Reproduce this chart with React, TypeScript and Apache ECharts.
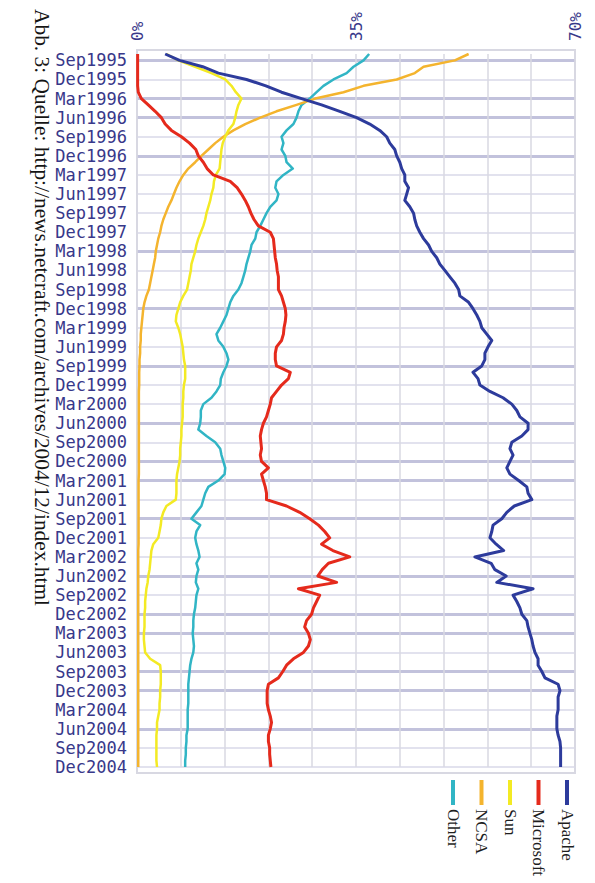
import React, { useEffect, useRef } from "react";
import * as echarts from "echarts";

// ---- categories (monthly, Aug 1995 .. Dec 2004) ----
const MONTH_NAMES = ["Jan", "Feb", "Mar", "Apr", "May", "Jun", "Jul", "Aug", "Sep", "Oct", "Nov", "Dec"];
const FIRST_YEAR = 1995;
const FIRST_MONTH = 7; // Aug
const MONTH_COUNT = 113;
const months: string[] = [];
for (let i = 0; i < MONTH_COUNT; i++) {
  const t = FIRST_MONTH + i;
  months.push(MONTH_NAMES[t % 12] + (FIRST_YEAR + Math.floor(t / 12)));
}

// value-axis tick labels that are printed
const X_LABELS = [0, 35, 70];

// ---- series values (percent share) ----
const apache = [
  4.5, 6.8, 10.5, 13.0, 17.5, 20.6, 23.1, 26.3, 29.5, 32.4, 35.1, 37.2, 38.8, 39.9, 40.4, 41.2, 41.5, 42.0, 42.3, 42.8,
  42.8, 43.4, 43.1, 42.8, 43.6, 44.2, 44.4, 44.7, 45.2, 45.8, 46.6, 47.1, 47.9, 48.4, 49.2, 50.0, 50.8, 51.4, 51.6, 53.0,
  53.7, 54.3, 54.8, 55.1, 55.9, 56.7, 56.1, 55.6, 55.6, 55.1, 53.7, 54.5, 54.8, 56.4, 58.5, 59.9, 60.7, 61.2, 62.5, 62.5,
  61.5, 59.9, 59.6, 60.1, 59.6, 59.1, 59.6, 61.0, 62.3, 62.5, 63.1, 60.3, 59.1, 58.3, 56.9, 56.7, 56.4, 57.4, 58.6, 54.0,
  56.6, 57.2, 59.0, 57.5, 63.3, 60.1, 60.7, 61.2, 61.5, 62.3, 62.5, 62.8, 63.1, 63.3, 63.6, 64.1, 64.1, 64.7, 65.2, 67.3,
  67.6, 67.3, 67.3, 67.3, 67.1, 67.1, 67.1, 67.3, 67.6, 67.7, 67.7, 67.7, 67.7,
];
const microsoft = [
  0.1, 0.1, 0.1, 0.1, 0.1, 0.1, 0.2, 0.7, 1.8, 2.9, 3.9, 4.5, 5.5, 7.1, 8.4, 9.4, 9.8, 10.6, 11.2, 12.2,
  14.9, 16.0, 16.7, 17.3, 17.8, 18.2, 18.7, 19.4, 21.3, 21.8, 21.9, 22.0, 22.1, 22.3, 22.4, 22.6, 22.6, 22.6, 23.1, 23.4,
  23.7, 23.8, 23.7, 23.5, 23.4, 23.1, 22.3, 22.1, 22.1, 22.3, 24.5, 24.2, 23.1, 22.3, 21.5, 21.3, 21.0, 20.7, 20.2, 19.9,
  19.7, 19.8, 19.9, 19.7, 19.9, 21.0, 19.9, 20.2, 20.5, 20.7, 20.7, 23.9, 26.0, 27.6, 29.0, 30.0, 30.8, 29.5, 31.3, 34.0,
  30.6, 29.6, 28.9, 31.9, 25.8, 29.2, 28.7, 28.2, 27.9, 27.1, 26.8, 27.4, 27.7, 27.4, 26.6, 25.0, 23.9, 23.3, 22.6, 21.0,
  20.8, 20.8, 20.8, 21.0, 21.3, 21.5, 21.3, 21.0, 21.0, 21.2, 21.2, 21.3, 21.4,
];
const sun = [
  4.7, 6.6, 9.3, 11.9, 14.1, 15.1, 15.8, 16.7, 16.2, 15.9, 15.7, 15.4, 14.6, 14.1, 13.7, 13.5, 13.4, 13.3, 13.2, 12.6,
  12.3, 12.2, 11.9, 11.7, 11.4, 11.1, 10.9, 10.6, 10.2, 9.8, 9.5, 9.3, 9.0, 8.7, 8.6, 8.4, 8.2, 8.0, 7.4, 6.9,
  6.6, 6.3, 6.2, 6.6, 6.9, 7.1, 7.3, 7.4, 7.5, 7.7, 7.7, 7.7, 7.5, 7.4, 7.4, 7.3, 7.3, 7.3, 7.2, 7.1,
  7.1, 7.0, 6.9, 6.9, 6.8, 6.6, 6.4, 6.3, 6.3, 6.3, 6.2, 4.7, 4.2, 3.9, 3.8, 3.6, 3.4, 2.6, 2.3, 2.2,
  2.1, 2.0, 1.8, 1.7, 1.5, 1.4, 1.3, 1.3, 1.2, 1.2, 1.2, 1.1, 1.1, 1.2, 1.3, 2.1, 3.7, 3.8, 3.8, 3.8,
  3.7, 3.7, 3.6, 3.6, 3.4, 3.2, 3.2, 3.1, 3.1, 3.1, 3.1, 3.1, 3.2,
];
const ncsa = [
  53.0, 50.8, 45.8, 44.4, 41.5, 36.2, 33.0, 28.5, 25.5, 22.3, 19.7, 17.3, 15.4, 13.8, 12.5, 11.4, 10.3, 9.3, 8.2, 7.4,
  6.8, 6.3, 5.9, 5.5, 5.0, 4.6, 4.2, 3.9, 3.7, 3.4, 3.2, 3.0, 2.9, 2.7, 2.5, 2.3, 2.1, 1.9, 1.5, 1.2,
  1.0, 0.9, 0.8, 0.7, 0.6, 0.6, 0.5, 0.5, 0.4, 0.4, 0.35, 0.35, 0.35, 0.3, 0.3, 0.3, 0.3, 0.3, 0.3, 0.3,
  0.3, 0.3, 0.3, 0.3, 0.3, 0.3, 0.3, 0.25, 0.25, 0.25, 0.25, 0.25, 0.25, 0.25, 0.25, 0.25, 0.25, 0.25, 0.2, 0.2,
  0.2, 0.2, 0.2, 0.2, 0.2, 0.2, 0.2, 0.2, 0.2, 0.2, 0.2, 0.2, 0.2, 0.2, 0.2, 0.2, 0.2, 0.2, 0.2, 0.2,
  0.2, 0.2, 0.2, 0.2, 0.2, 0.2, 0.2, 0.2, 0.2, 0.2, 0.2, 0.2, 0.2,
];
const other = [
  37.1, 36.2, 34.6, 33.5, 31.4, 29.8, 28.7, 27.6, 26.3, 25.8, 25.5, 25.0, 23.9, 23.1, 23.4, 23.1, 23.7, 23.9, 24.9, 23.4,
  22.3, 22.1, 22.6, 22.3, 21.3, 20.7, 20.2, 19.7, 19.1, 18.9, 18.3, 18.1, 17.8, 17.5, 17.3, 17.0, 16.7, 16.2, 15.4, 14.9,
  14.6, 14.3, 13.8, 13.3, 12.7, 13.0, 13.8, 14.3, 14.6, 14.3, 13.8, 13.4, 13.3, 12.7, 11.9, 10.6, 10.2, 10.2, 10.1, 9.8,
  11.1, 12.5, 13.3, 13.5, 13.8, 14.1, 14.0, 13.0, 11.4, 10.9, 10.6, 10.3, 9.5, 8.7, 10.1, 9.5, 9.3, 9.5, 9.8, 10.0,
  9.5, 9.8, 9.5, 9.4, 9.8, 9.5, 9.4, 9.3, 9.1, 9.0, 9.0, 8.9, 9.0, 9.1, 9.0, 8.7, 8.5, 8.4, 8.3, 8.2,
  8.2, 8.2, 8.2, 8.1, 8.1, 8.1, 8.1, 7.9, 7.9, 7.8, 7.8, 7.7, 7.7,
];

const SERIES_NAMES = ["Apache", "Microsoft", "Sun", "NCSA", "Other"];
const SERIES_VALUES = [apache, microsoft, sun, ncsa, other];
const COLORS = ["#2d3b9c", "#e52a1c", "#f3ea24", "#f4b42e", "#31b5c5"];
const WIDTHS = [3, 3, 2.5, 2.5, 2.5];

// quarter rows whose grid line appears heavier in the scan
const HEAVY_ROWS = [0, 2, 3, 5, 10, 13, 16, 19, 21, 22, 24, 27, 29, 30, 32, 33, 35];

const CAPTION = "Abb. 3: Quelle: http://news.netcraft.com/archives/2004/12/index.html";

const LABEL_COLOR = "#38388a";
const MONO = "'DejaVu Sans Mono', monospace";
const SERIF = "'Liberation Serif', 'DejaVu Serif', serif";

export default function App() {
  const ref = useRef<HTMLDivElement>(null);

  useEffect(() => {
    if (!ref.current) return;
    const chart = echarts.init(ref.current, undefined, { renderer: "svg" });

    const isQuarter = (i: number) => i % 3 === 1;

    const legendGraphics: any[] = [];
    SERIES_NAMES.forEach((name, i) => {
      const cx = 567 - i * 28.5;
      legendGraphics.push({
        type: "line",
        shape: { x1: cx, y1: 780, x2: cx, y2: 805 },
        style: { stroke: COLORS[i], lineWidth: 4 },
      });
      legendGraphics.push({
        type: "text",
        x: cx,
        y: 809,
        rotation: -Math.PI / 2,
        style: {
          text: name,
          fill: "#1e1e1e",
          fontSize: 17,
          fontFamily: SERIF,
          align: "left",
          verticalAlign: "middle",
        },
      });
    });

    const option: any = {
      animation: false,
      backgroundColor: "#ffffff",
      grid: { left: 137, right: 20, top: 54, bottom: 116, containLabel: false },
      xAxis: {
        type: "value",
        position: "top",
        min: 0,
        max: 70,
        interval: 7,
        axisLine: { show: false },
        axisTick: { show: false },
        axisLabel: {
          rotate: -90,
          margin: 13,
          color: LABEL_COLOR,
          fontFamily: MONO,
          fontSize: 16,
          formatter: (v: number) => (X_LABELS.includes(Math.round(v)) ? Math.round(v) + "%" : ""),
        },
        splitLine: { show: true, lineStyle: { color: "#d9d9e2", width: 1.5 } },
      },
      yAxis: [
        {
          type: "category",
          data: months,
          inverse: true,
          boundaryGap: false,
          axisLine: { show: false },
          axisTick: { show: false },
          axisLabel: {
            interval: (i: number) => isQuarter(i),
            margin: 10,
            color: LABEL_COLOR,
            fontFamily: MONO,
            fontSize: 17,
          },
          splitLine: {
            show: true,
            interval: (i: number) => isQuarter(i),
            lineStyle: { color: "#d8d8e8", width: 1.5 },
          },
        },
        {
          type: "category",
          data: months,
          inverse: true,
          boundaryGap: false,
          position: "right",
          axisLine: { show: false },
          axisTick: { show: false },
          axisLabel: { show: false },
          splitLine: {
            show: true,
            interval: (i: number) => isQuarter(i) && HEAVY_ROWS.includes((i - 1) / 3),
            lineStyle: { color: "#c2c2dc", width: 3 },
          },
        },
      ],
      series: SERIES_NAMES.map((name, s) => ({
        name,
        type: "line",
        xAxisIndex: 0,
        yAxisIndex: 0,
        symbol: "none",
        data: SERIES_VALUES[s].map((v, i) => [v, i]),
        lineStyle: { color: COLORS[s], width: WIDTHS[s], join: "round" },
        itemStyle: { color: COLORS[s] },
        z: 10 - s,
      })),
      graphic: [
        {
          type: "rect",
          shape: { x: 137, y: 50, width: 438, height: 723 },
          style: { fill: "none", stroke: "#d8d8e2", lineWidth: 2 },
          z: 0,
        },
        {
          type: "text",
          x: 42,
          y: 9,
          rotation: -Math.PI / 2,
          style: {
            text: CAPTION,
            fill: "#151515",
            fontSize: 21.4,
            fontFamily: SERIF,
            align: "left",
            verticalAlign: "middle",
          },
        },
        ...legendGraphics,
      ],
    };

    chart.setOption(option);
    return () => chart.dispose();
  }, []);

  return (
    <div
      ref={ref}
      style={{ position: "fixed", left: 0, top: 0, width: 595, height: 883, background: "#fff" }}
    />
  );
}
